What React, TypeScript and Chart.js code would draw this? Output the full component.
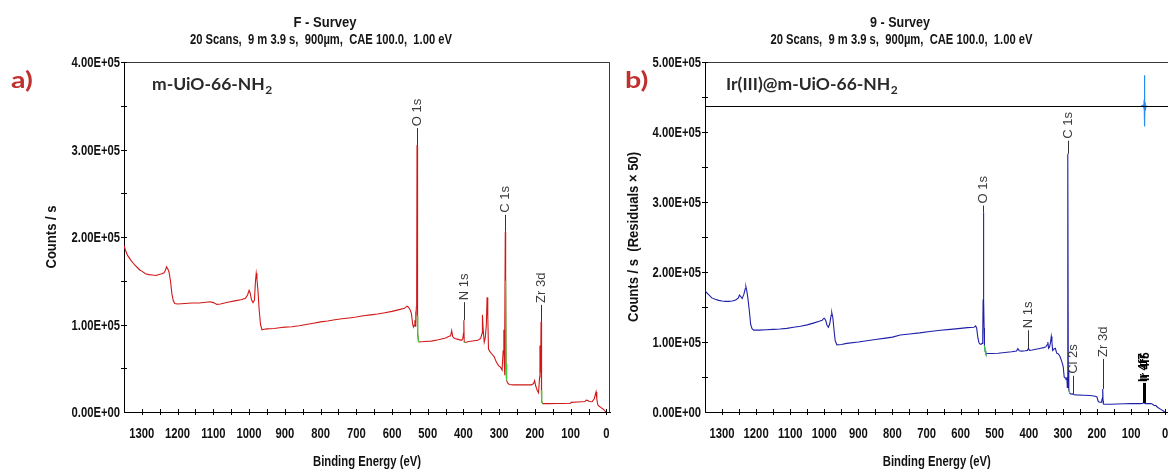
import React, { useEffect, useRef } from 'react';
import { Chart, registerables } from 'chart.js';

Chart.register(...registerables);

// ---------- DATA ----------
// Panel a) m-UiO-66-NH2 survey spectrum (binding energy eV, counts/s)
const energiesA = [
  1350, 1345, 1340, 1330, 1320, 1310, 1305, 1300, 1290, 1280, 1270, 1260, 1250, 1244, 1238, 1234, 1231, 1228, 1224, 1220,
  1216, 1212, 1208, 1200, 1180, 1160, 1140, 1120, 1110, 1100, 1090, 1080, 1060, 1040, 1020, 1010, 1004, 1000, 997, 993,
  989, 985, 982, 980, 978, 975, 972, 968, 964, 958, 950, 930, 910, 900, 880, 860, 840, 820, 800, 780,
  760, 740, 720, 700, 680, 660, 640, 620, 600, 580, 565, 558, 555, 550, 546, 542, 540, 538, 536, 535,
  534, 533, 532, 531, 530, 529, 528, 526, 524, 510, 490, 470, 450, 440, 436, 433, 430, 425, 415, 405,
  402, 400, 399, 398, 395, 385, 370, 360, 352, 348, 347, 345, 342, 339, 336, 334, 332, 330, 326, 320,
  314, 308, 302, 296, 292, 289, 287, 286, 285, 284, 283, 282, 281, 280, 279, 276, 272, 260, 240, 220,
  210, 204, 201, 198, 194, 190, 187, 186, 185, 184, 183, 182, 181, 178, 160, 140, 120, 100, 99, 80,
  60, 56, 52, 48, 40, 34, 31, 29, 27, 24, 20, 15, 10, 5, 2, 0,
];
const countsA = [
  190000, 184000, 179000, 173000, 168000, 164000, 162000, 161000, 158000, 157000, 156500, 156000, 157500, 158000, 159000, 162000, 166000, 164000, 160000, 150000,
  135000, 127000, 124000, 123500, 124000, 124500, 124500, 125500, 126000, 125000, 123000, 123500, 125500, 127000, 128500, 130000, 134000, 139000, 136000, 128000,
  125000, 128000, 150000, 158500, 152000, 138000, 118000, 100000, 94000, 94500, 95000, 95500, 96500, 97000, 97500, 98500, 100000, 101500, 103000, 104000,
  105500, 106500, 107500, 108500, 110000, 111000, 112000, 113500, 115000, 117000, 118500, 121000, 120000, 117500, 113000, 100000, 97000, 99000, 105000, 98000,
  115000, 100000, 120000, 140000, 305000, 110000, 90000, 81000, 80000, 80500, 81000, 82500, 84500, 86500, 87000, 93000, 86000, 84000, 83000, 82000,
  84000, 90000, 105000, 80000, 79500, 80500, 81500, 82000, 84000, 90000, 111000, 95000, 80000, 85000, 100000, 131000, 110000, 72000, 69000, 66000,
  63000, 57000, 53000, 51000, 48000, 70000, 94000, 60000, 42000, 90000, 206000, 150000, 55000, 40000, 36000, 33000, 31500, 31000, 31000, 31000,
  31000, 32500, 36000, 30000, 25000, 22000, 40000, 76000, 50000, 45000, 103000, 25000, 12000, 9600, 9600, 9700, 9800, 10000, 11000, 11500,
  12000, 13500, 13000, 12000, 11800, 15000, 20000, 23000, 15000, 8000, 6500, 5000, 3500, 1500, 500, 0,
];

// Panel b) Ir(III)@m-UiO-66-NH2 survey spectrum
const energiesB = [
  1350, 1340, 1330, 1320, 1310, 1300, 1290, 1280, 1270, 1260, 1252, 1249, 1245, 1241, 1236, 1232, 1230, 1227, 1224, 1220,
  1216, 1212, 1207, 1190, 1170, 1150, 1130, 1110, 1090, 1070, 1050, 1032, 1015, 1006, 1003, 1000, 996, 992, 988, 984,
  980, 978, 975, 971, 968, 963, 950, 934, 900, 880, 850, 820, 800, 777, 750, 720, 690, 659, 630, 600,
  580, 561, 556, 553, 549, 546, 543, 540, 537, 535, 534, 533, 532, 531, 530, 528, 526, 510, 490, 470,
  450, 436, 432, 428, 420, 410, 404, 401, 398, 390, 375, 365, 356, 350, 346, 344, 342, 339, 336, 334,
  332, 330, 326, 322, 318, 313, 308, 303, 299, 296, 292, 290, 288, 287, 286, 285, 284, 283, 282, 280,
  276, 271, 270, 260, 240, 220, 205, 200, 196, 192, 188, 186, 184, 183, 182, 181, 176, 160, 140, 120,
  100, 90, 75, 66, 64, 63, 62, 60, 58, 50, 42, 38, 34, 30, 27, 24, 20, 15, 10, 5,
  2, 0,
];
const countsB = [
  173000, 168000, 163000, 161000, 159500, 158500, 158000, 158000, 158500, 160000, 163000, 167000, 165000, 162000, 168000, 176000, 179000, 172000, 162000, 145000,
  125000, 119000, 117000, 117000, 117500, 118000, 118500, 119500, 121000, 122500, 124500, 127000, 129500, 131000, 133000, 134000, 131000, 124000, 121000, 126000,
  138000, 142000, 135000, 115000, 102000, 96000, 96500, 98000, 100000, 101500, 103500, 105500, 107000, 110000, 111500, 113000, 115000, 116700, 118000, 119500,
  120500, 121000, 123000, 120000, 105000, 99000, 97000, 96500, 98000, 110000, 160000, 285000, 160000, 120000, 95000, 87000, 83500, 83500, 84000, 85000,
  86000, 87000, 90500, 87500, 87000, 87500, 88000, 91000, 88000, 88500, 90000, 91000, 92000, 93000, 96000, 100000, 91000, 93000, 100000, 108000,
  100000, 88000, 90000, 91000, 84000, 83000, 79000, 72000, 65000, 50000, 48000, 46000, 50000, 35000, 48000, 369000, 60000, 45000, 32000, 27000,
  25500, 26000, 25000, 24500, 24000, 23500, 22500, 21500, 15000, 14000, 14000, 16000, 20000, 33000, 16000, 11500, 11000, 11000, 11500, 11800,
  12000, 12200, 12000, 12300, 13000, 14000, 13000, 12500, 12000, 12000, 12200, 11500, 10000, 9000, 9500, 7500, 6000, 4500, 3000, 1500,
  500, 0,
];

// Residuals (x 50) of the Ir 4f fit region, panel b
const residualEnergiesB = [70, 64, 62, 61.5, 61, 60.7, 60.4, 60.1, 59.8, 59.5, 59.2, 58.8, 58, 56, 52];
const residualsB = [0, 1500, -3000, 9000, -14000, 44000, -29000, 12000, -22000, 10000, -18000, 5000, -6000, 0, 0];

// Background-region markers (green) in eV
const greenRangesA = [[524, 529], [395, 398], [279, 282], [178, 182]];
const greenRangesB = [[526, 530], [279, 282]];

// Axis ticks
const xTickLabels = [1300, 1200, 1100, 1000, 900, 800, 700, 600, 500, 400, 300, 200, 100, 0];
const yTicksA = [0, 100000, 200000, 300000, 400000];
const yTicksB = [0, 100000, 200000, 300000, 400000, 500000];

// Peak identifications (eV, counts at top of peak)
const peakNamesA = ['O 1s', 'N 1s', 'C 1s', 'Zr 3d'];
const peakEnergiesA = [530, 399, 283, 183];
const peakTopsA = [305000, 105000, 206000, 103000];

const peakNamesB = ['O 1s', 'N 1s', 'C 1s', 'Cl 2s', 'Zr 3d', 'Ir 4f'];
const peakEnergiesB = [533, 401, 285, 271, 183, 63];
const peakTopsB = [285000, 91000, 369000, 26000, 33000, 13000];

// ---------- STYLE ----------
const SANS = '"Liberation Sans", Arial, sans-serif';
const LABEL = 'Lato, "Open Sans", "Noto Sans", sans-serif';
const NARROW_X = 0.75;
const leaderA: Record<string, number> = { 'O 1s': 17, 'N 1s': 18, 'C 1s': 17, 'Zr 3d': 17 };
const leaderB: Record<string, number> = { 'O 1s': 7, 'N 1s': 18, 'C 1s': 13, 'Cl 2s': 18, 'Zr 3d': 30, 'Ir 4f': 20 };

function sci(v: number): string {
  if (v === 0) return '0.00E+00';
  const e = Math.floor(Math.log10(Math.abs(v)) + 1e-9);
  const m = v / Math.pow(10, e);
  return m.toFixed(2) + 'E' + (e >= 0 ? '+' : '-') + String(Math.abs(e)).padStart(2, '0');
}

// draw text horizontally condensed; if width given, fit to it
function narrowText(
  ctx: CanvasRenderingContext2D,
  text: string,
  x: number,
  y: number,
  font: string,
  align: CanvasTextAlign,
  sx: number,
  width?: number,
  rotate?: boolean
) {
  ctx.save();
  ctx.font = font;
  ctx.textAlign = align;
  ctx.textBaseline = 'middle';
  const s = width ? width / ctx.measureText(text).width : sx;
  ctx.translate(x, y);
  if (rotate) ctx.rotate(-Math.PI / 2);
  ctx.scale(s, 1);
  ctx.fillText(text, 0, 0);
  ctx.restore();
}

type Panel = {
  key: string;
  energies: number[];
  counts: number[];
  color: string;
  greenRanges: number[][];
  yMax: number;
  yTicks: number[];
  yTitle: string;
  yTitleW: number;
  yTitleX: number;
  yAxisWidth: number;
  padRight: number;
  names: string[];
  peakE: number[];
  peakTop: number[];
  leader: Record<string, number>;
  title1: [number, number, number];
  title2: [number, number, number];
  titleText: string;
  letter: string;
  letterX: number;
  sample: string;
  sampleX: number;
  residE?: number[];
  resid?: number[];
};

function makePlugin(p: Panel) {
  return {
    id: 'deco' + p.key,
    afterDraw(chart: any) {
      const ctx: CanvasRenderingContext2D = chart.ctx;
      const ca = chart.chartArea;
      const xs = chart.scales.x;
      const ys = chart.scales.y;
      ctx.save();
      // frame top & right
      ctx.strokeStyle = '#3a3a3a';
      ctx.lineWidth = 1;
      ctx.beginPath();
      ctx.moveTo(ca.left, Math.round(ca.top) + 0.5);
      ctx.lineTo(ca.right, Math.round(ca.top) + 0.5);
      ctx.moveTo(Math.round(ca.right) - 0.5, ca.top);
      ctx.lineTo(Math.round(ca.right) - 0.5, ca.bottom);
      ctx.stroke();

      // residual separator
      if (chart.scales.yRes) {
        const yr = Math.round(chart.scales.yRes.getPixelForValue(0)) + 0.5;
        ctx.strokeStyle = '#000';
        ctx.beginPath();
        ctx.moveTo(ca.left, yr);
        ctx.lineTo(ca.right, yr);
        ctx.stroke();
      }

      // crossing tick marks
      ctx.strokeStyle = '#000';
      ctx.beginPath();
      const by = Math.round(ca.bottom);
      for (let v = 0; v <= 1300; v += 50) {
        const x = Math.round(xs.getPixelForValue(v)) + 0.5;
        ctx.moveTo(x, by - 3);
        ctx.lineTo(x, by + 3);
      }
      const lx = Math.round(ca.left);
      for (let v = 50000; v <= p.yMax; v += 50000) {
        const y = Math.round(ys.getPixelForValue(v)) + 0.5;
        ctx.moveTo(lx - 3, y);
        ctx.lineTo(lx + 3, y);
      }
      ctx.stroke();

      // tick labels (positions from the chart's scales), condensed bold
      ctx.fillStyle = '#111';
      const tf = 'bold 15px ' + SANS;
      xs.ticks.forEach((t: any) => {
        narrowText(ctx, String(t.value), xs.getPixelForValue(t.value), ca.bottom + 22, tf, 'center', NARROW_X);
      });
      ys.ticks.forEach((t: any) => {
        narrowText(ctx, sci(t.value), ca.left - 4, ys.getPixelForValue(t.value) + 1, tf, 'right', NARROW_X);
      });
      // axis titles
      narrowText(ctx, 'Binding Energy (eV)', (ca.left + ca.right) / 2, 462, 'bold 15px ' + SANS, 'center', 1, 108);
      narrowText(ctx, p.yTitle, p.yTitleX, (ca.top + ca.bottom) / 2, 'bold 15px ' + SANS, 'center', 1, p.yTitleW, true);

      // peak labels
      p.names.forEach((name, i) => {
        const x = Math.round(xs.getPixelForValue(p.peakE[i])) + 0.5;
        const y0 = ys.getPixelForValue(p.peakTop[i]);
        const len = p.leader[name];
        const isIr = name === 'Ir 4f';
        ctx.strokeStyle = isIr ? '#000' : '#333';
        ctx.lineWidth = isIr ? 3 : 1;
        ctx.beginPath();
        ctx.moveTo(x, y0);
        ctx.lineTo(x, y0 - len);
        ctx.stroke();
        ctx.save();
        ctx.translate(x, y0 - len - 1);
        ctx.rotate(-Math.PI / 2);
        ctx.textAlign = 'left';
        ctx.textBaseline = 'middle';
        if (isIr) {
          ctx.fillStyle = '#000';
          ctx.font = 'bold 12px ' + SANS;
          ctx.fillText('Ir 4f7', 0, -1);
          ctx.fillText('Ir 4f5', 1, 1);
        } else {
          ctx.fillStyle = '#3c3c3c';
          ctx.font = '13px ' + SANS;
          ctx.fillText(name, 1, 0);
        }
        ctx.restore();
      });

      // titles
      ctx.fillStyle = '#151515';
      narrowText(ctx, p.titleText, p.title1[0], p.title1[1], 'bold 15px ' + SANS, 'center', 1, p.title1[2]);
      narrowText(
        ctx,
        '20 Scans,  9 m 3.9 s,  900\u00b5m,  CAE 100.0,  1.00 eV',
        p.title2[0],
        p.title2[1],
        'bold 15px ' + SANS,
        'center',
        1,
        p.title2[2]
      );

      // panel letter
      ctx.save();
      ctx.fillStyle = '#c0302c';
      ctx.font = 'bold 22px ' + LABEL;
      ctx.textAlign = 'left';
      ctx.textBaseline = 'alphabetic';
      ctx.translate(p.letterX, 88);
      ctx.scale(1.3, 1);
      ctx.fillText(p.letter, 0, 0);
      ctx.restore();

      // sample name with subscript 2
      ctx.fillStyle = '#2a2a2a';
      ctx.textAlign = 'left';
      ctx.textBaseline = 'alphabetic';
      ctx.font = 'bold 17.5px ' + LABEL;
      ctx.fillText(p.sample, p.sampleX, 90);
      const w = ctx.measureText(p.sample).width;
      ctx.font = 'bold 12px ' + LABEL;
      ctx.fillText('2', p.sampleX + w + 0.5, 94);
      ctx.restore();
    },
  };
}

function makeConfig(p: Panel): any {
  const main = p.energies.map((e, i) => ({ x: e, y: p.counts[i] }));
  const datasets: any[] = [
    { data: main, borderColor: p.color, borderWidth: 1.1, pointRadius: 0, tension: 0, yAxisID: 'y', order: 1 },
  ];
  p.greenRanges.forEach(([lo, hi]) => {
    datasets.push({
      data: main.filter((pt) => pt.x >= lo && pt.x <= hi),
      borderColor: '#3fcf3f',
      borderWidth: 1.2,
      pointRadius: 0,
      yAxisID: 'y',
      order: 0,
    });
  });
  const scales: any = {
    x: {
      type: 'linear',
      reverse: true,
      min: -10,
      max: 1350,
      afterBuildTicks: (ax: any) => {
        ax.ticks = xTickLabels.map((v) => ({ value: v }));
      },
      ticks: { display: false },
      grid: { display: false, drawTicks: false },
      border: { display: true, color: '#000', width: 1 },
      afterFit: (s: any) => {
        s.height = 60;
      },
    },
    y: {
      type: 'linear',
      min: 0,
      max: p.yMax,
      afterBuildTicks: (ax: any) => {
        ax.ticks = p.yTicks.map((v) => ({ value: v }));
      },
      ticks: { display: false },
      grid: { display: false, drawTicks: false },
      border: { display: true, color: '#000', width: 1 },
      afterFit: (s: any) => {
        s.width = p.yAxisWidth;
      },
    },
  };
  if (p.residE && p.resid) {
    datasets.push({
      data: p.residE.map((e, i) => ({ x: e, y: p.resid![i] })),
      borderColor: '#2b8cf0',
      borderWidth: 1.2,
      pointRadius: 0,
      yAxisID: 'yRes',
      order: 0,
    });
    scales.yRes = { type: 'linear', display: false, min: -437000, max: 63000 };
  }
  return {
    type: 'line',
    data: { datasets },
    options: {
      responsive: false,
      animation: false,
      devicePixelRatio: 1,
      events: [],
      layout: { padding: { left: 0, right: p.padRight, top: 62, bottom: 0 } },
      plugins: { legend: { display: false }, tooltip: { enabled: false }, title: { display: false } },
      scales,
    },
    plugins: [makePlugin(p)],
  };
}

const panelA: Panel = {
  key: 'A',
  energies: energiesA,
  counts: countsA,
  color: '#d01818',
  greenRanges: greenRangesA,
  yMax: 400000,
  yTicks: yTicksA,
  yTitle: 'Counts / s',
  yTitleW: 63,
  yTitleX: 52,
  yAxisWidth: 124,
  padRight: 10,
  names: peakNamesA,
  peakE: peakEnergiesA,
  peakTop: peakTopsA,
  leader: leaderA,
  title1: [325, 23, 63],
  title2: [321, 40, 262],
  titleText: 'F - Survey',
  letter: 'a)',
  letterX: 11,
  sample: 'm-UiO-66-NH',
  sampleX: 152,
};

const panelB: Panel = {
  key: 'B',
  energies: energiesB,
  counts: countsB,
  color: '#1f1fa8',
  greenRanges: greenRangesB,
  yMax: 500000,
  yTicks: yTicksB,
  yTitle: 'Counts / s  (Residuals \u00d7 50)',
  yTitleW: 170,
  yTitleX: 54,
  yAxisWidth: 125,
  padRight: 1.5,
  names: peakNamesB,
  peakE: peakEnergiesB,
  peakTop: peakTopsB,
  leader: leaderB,
  title1: [320, 23, 60],
  title2: [321.5, 40, 262],
  titleText: '9 - Survey',
  letter: 'b)',
  letterX: 45,
  sample: 'Ir(III)@m-UiO-66-NH',
  sampleX: 146,
  residE: residualEnergiesB,
  resid: residualsB,
};

export default function App() {
  const refA = useRef<HTMLCanvasElement>(null);
  const refB = useRef<HTMLCanvasElement>(null);
  useEffect(() => {
    const a = new Chart(refA.current as HTMLCanvasElement, makeConfig(panelA));
    const b = new Chart(refB.current as HTMLCanvasElement, makeConfig(panelB));
    return () => {
      a.destroy();
      b.destroy();
    };
  }, []);
  return (
    <div
      style={{
        position: 'absolute',
        left: 0,
        top: 0,
        width: 1168,
        height: 472,
        overflow: 'hidden',
        background: '#fff',
      }}
    >
      <canvas ref={refA} width={620} height={472} style={{ position: 'absolute', left: 0, top: 0 }} />
      <canvas ref={refB} width={590} height={472} style={{ position: 'absolute', left: 580, top: 0 }} />
    </div>
  );
}
